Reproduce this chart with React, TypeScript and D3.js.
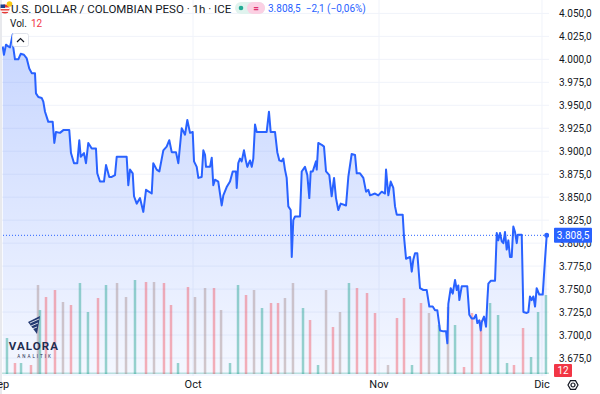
import React, { useEffect, useRef } from "react";
import * as d3 from "d3";

const W = 600;
const H = 394;

// [trading-day index, USD/COP price]
const priceSeries: [number, number][] = [
  [0.09, 4014], [0.24, 4005], [0.49, 4016], [0.77, 4014], [0.98, 4013], [1.31, 4027],
  [1.38, 4013], [1.59, 4000], [2.0, 4000], [2.29, 4006], [2.69, 4005], [3.03, 4001],
  [3.34, 3990], [3.64, 3985], [4.04, 3985], [4.16, 3963], [4.45, 3959], [4.86, 3958],
  [5.06, 3954], [5.27, 3943], [5.67, 3932], [6.21, 3932], [6.41, 3909], [6.61, 3921],
  [7.1, 3920], [7.51, 3923], [8.24, 3923], [8.45, 3898], [8.82, 3887], [9.22, 3887],
  [9.47, 3912], [9.64, 3894], [10.04, 3898], [10.29, 3887], [10.57, 3909], [10.99, 3903],
  [11.51, 3903], [11.67, 3876], [12.0, 3867], [12.49, 3867], [12.74, 3885], [13.14, 3872],
  [13.44, 3872], [13.84, 3874], [14.05, 3894], [15.27, 3894], [15.47, 3863], [15.68, 3880],
  [16.01, 3876], [16.17, 3851], [16.5, 3843], [16.9, 3849], [17.31, 3834], [17.64, 3858],
  [18.34, 3854], [18.53, 3887], [18.95, 3880], [19.27, 3878], [19.76, 3901], [20.17, 3905],
  [20.49, 3912], [20.79, 3899], [21.31, 3899], [21.6, 3887], [22.01, 3925], [22.42, 3918],
  [22.7, 3934], [23.03, 3920], [23.36, 3921], [23.52, 3889], [23.85, 3883], [24.05, 3871],
  [24.46, 3872], [24.66, 3901], [24.87, 3896], [24.99, 3883], [25.48, 3883], [25.69, 3893],
  [25.88, 3863], [26.09, 3869], [26.49, 3867], [26.91, 3841], [27.11, 3852], [27.52, 3861],
  [27.93, 3867], [28.26, 3878], [28.66, 3878], [28.75, 3860], [28.94, 3887], [29.15, 3892],
  [29.36, 3889], [29.64, 3901], [29.89, 3889], [30.05, 3883], [30.38, 3890], [30.59, 3883],
  [30.78, 3892], [30.99, 3929], [31.2, 3921], [32.42, 3921], [32.7, 3943], [32.91, 3921],
  [33.44, 3921], [33.72, 3899], [33.97, 3890], [34.26, 3889], [34.46, 3892], [34.66, 3880],
  [34.87, 3871], [35.07, 3840], [35.36, 3836], [35.49, 3785], [35.68, 3825], [35.89, 3829],
  [36.5, 3829], [36.71, 3878], [37.11, 3883], [37.4, 3874], [37.64, 3849], [37.81, 3878],
  [38.06, 3878], [38.46, 3889], [38.55, 3880], [38.74, 3909], [39.16, 3907], [39.44, 3905],
  [39.69, 3878], [40.09, 3874], [40.38, 3851], [40.67, 3871], [40.91, 3849], [41.19, 3836],
  [41.49, 3843], [42.14, 3841], [42.42, 3872], [42.83, 3897], [43.24, 3896], [43.45, 3876],
  [43.85, 3876], [44.26, 3871], [44.59, 3856], [44.87, 3858], [45.08, 3852], [45.69, 3854],
  [46.09, 3852], [46.51, 3856], [46.91, 3854], [47.04, 3880], [47.32, 3852], [47.61, 3867],
  [47.93, 3860], [48.14, 3840], [48.35, 3831], [49.08, 3831], [49.24, 3807], [49.49, 3783],
  [49.98, 3785], [50.19, 3769], [50.38, 3782], [50.59, 3789], [50.87, 3789], [51.2, 3751],
  [51.61, 3749], [52.02, 3749], [52.34, 3731], [52.76, 3731], [53.04, 3727], [53.32, 3727],
  [53.65, 3705], [54.06, 3704], [54.39, 3704], [54.55, 3691], [54.67, 3734], [54.96, 3751],
  [55.21, 3745], [55.49, 3760], [55.7, 3749], [55.89, 3754], [56.02, 3738], [56.31, 3753],
  [56.99, 3753], [57.24, 3722], [57.53, 3718], [57.81, 3718], [58.06, 3722], [58.22, 3713],
  [58.46, 3716], [58.64, 3705], [58.76, 3714], [59.04, 3720], [59.29, 3709], [59.45, 3738],
  [59.57, 3756], [59.86, 3759], [60.39, 3759], [60.6, 3811], [60.79, 3803], [61.0, 3811],
  [61.21, 3802], [61.41, 3800], [61.61, 3812], [61.82, 3793], [62.02, 3803], [62.22, 3785],
  [62.43, 3785], [62.63, 3818], [62.84, 3812], [63.05, 3800], [63.17, 3809], [63.66, 3809],
  [63.86, 3725], [64.27, 3724], [64.47, 3725], [64.67, 3742], [64.88, 3738], [65.08, 3742],
  [65.29, 3731], [65.49, 3751], [65.81, 3744], [66.23, 3744], [66.51, 3782], [66.72, 3808.5],
];

// [trading-day index, volume (relative), candle direction: u=up, d=down, m=mixed]
const volumeSeries: [number, number, string][] = [
  [0.61, 36, "u"], [1.59, 11, "d"], [2.33, 11, "u"], [3.55, 9, "d"], [4.41, 89, "m"],
  [4.65, 64, "u"], [5.39, 77, "d"], [6.49, 84, "d"], [7.47, 72, "m"], [8.45, 69, "d"],
  [9.55, 91, "u"], [10.53, 62, "u"], [11.76, 76, "d"], [12.74, 89, "u"], [14.09, 91, "m"],
  [15.19, 77, "m"], [16.29, 94, "u"], [17.64, 92, "d"], [18.62, 92, "m"], [19.84, 91, "d"],
  [20.7, 69, "d"], [21.56, 11, "u"], [22.78, 87, "d"], [23.64, 77, "m"], [24.87, 86, "m"],
  [25.97, 86, "d"], [26.83, 64, "m"], [27.93, 11, "u"], [28.91, 89, "u"], [29.89, 79, "d"],
  [30.87, 84, "m"], [31.85, 66, "u"], [32.95, 71, "d"], [33.81, 71, "d"], [34.66, 76, "m"],
  [35.64, 91, "m"], [36.87, 66, "u"], [37.73, 54, "d"], [38.71, 9, "u"], [39.69, 84, "m"],
  [40.54, 47, "d"], [41.4, 62, "m"], [42.5, 91, "u"], [43.48, 86, "d"], [44.71, 81, "d"],
  [45.69, 61, "d"], [47.28, 9, "m"], [48.38, 56, "d"], [49.24, 76, "d"], [50.22, 9, "u"],
  [51.32, 71, "d"], [52.3, 61, "m"], [53.53, 49, "u"], [54.63, 67, "m"], [55.49, 49, "u"],
  [56.59, 7, "d"], [57.57, 61, "d"], [58.67, 54, "d"], [59.78, 71, "u"], [60.76, 59, "u"],
  [61.86, 11, "u"], [62.71, 9, "d"], [63.82, 46, "d"], [64.8, 17, "u"], [65.66, 62, "u"],
  [66.63, 79, "u"],
];

const priceTicks = [3675, 3700, 3725, 3750, 3775, 3800, 3825, 3850, 3875, 3900, 3925, 3950, 3975, 4000, 4025, 4050];
const monthTicks: [number, string][] = [[-0.25, "Sep"], [23.4, "Oct"], [46.18, "Nov"], [66.14, "Dic"]];
const lastPrice = 3808.5;
const lastVolume = 12;
const title = "U.S. DOLLAR / COLOMBIAN PESO · 1h · ICE";
const changeText = "3.808,5  −2,1 (−0,06%)";

const volColor: Record<string, string> = {
  u: "rgba(8,153,129,0.4)",
  d: "rgba(242,54,69,0.38)",
  m: "rgba(160,130,130,0.42)",
};

const FONT = "Roboto, 'Open Sans', sans-serif";

const App = () => {
  const ref = useRef<SVGSVGElement>(null);

  useEffect(() => {
    const svg = d3.select(ref.current);
    svg.selectAll("*").remove();

    const plotRight = 549;
    const plotBottom = 376;

    const x = d3.scaleLinear().domain([0, 67]).range([2, plotRight]);
    const y = d3.scaleLinear().domain([3675, 4050]).range([358, 13.4]);
    const yVol = d3.scaleLinear().domain([0, 100]).range([374, 274]);

    const loc = d3.formatLocale({ decimal: ",", thousands: ".", grouping: [3], currency: ["", ""] });
    const fmt = loc.format(",.1f");

    svg.append("rect").attr("width", W).attr("height", H).attr("fill", "#fff");

    const defs = svg.append("defs");
    const grad = defs
      .append("linearGradient")
      .attr("id", "areaGrad")
      .attr("gradientUnits", "userSpaceOnUse")
      .attr("x1", 0).attr("x2", 0)
      .attr("y1", 40).attr("y2", plotBottom);
    grad.append("stop").attr("offset", 0).attr("stop-color", "#2962ff").attr("stop-opacity", 0.26);
    grad.append("stop").attr("offset", 1).attr("stop-color", "#2962ff").attr("stop-opacity", 0.05);

    // grid
    svg.append("g")
      .selectAll("line")
      .data(priceTicks)
      .join("line")
      .attr("x1", 0).attr("x2", plotRight)
      .attr("y1", (d) => y(d)).attr("y2", (d) => y(d))
      .attr("stroke", "#f0f3fa");
    svg.append("g")
      .selectAll("line")
      .data(monthTicks.slice(1))
      .join("line")
      .attr("x1", (d) => x(d[0])).attr("x2", (d) => x(d[0]))
      .attr("y1", 0).attr("y2", plotBottom)
      .attr("stroke", "#f0f3fa");

    // area under the line
    const area = d3.area<[number, number]>()
      .x((d) => x(d[0]))
      .y0(plotBottom)
      .y1((d) => y(d[1]));
    svg.append("path").datum(priceSeries).attr("d", area).attr("fill", "url(#areaGrad)");

    // volume
    svg.append("rect")
      .attr("x", 2).attr("y", yVol(1.5))
      .attr("width", plotRight - 2).attr("height", yVol(0) - yVol(1.5))
      .attr("fill", "rgba(8,153,129,0.25)");
    svg.append("g")
      .selectAll("rect")
      .data(volumeSeries)
      .join("rect")
      .attr("x", (d) => x(d[0]) - 1.25)
      .attr("y", (d) => yVol(d[1]))
      .attr("width", 2.5)
      .attr("height", (d) => yVol(0) - yVol(d[1]))
      .attr("fill", (d) => volColor[d[2]]);

    // price line
    const line = d3.line<[number, number]>()
      .x((d) => x(d[0]))
      .y((d) => y(d[1]));
    svg.append("path")
      .datum(priceSeries)
      .attr("d", line)
      .attr("fill", "none")
      .attr("stroke", "#2962ff")
      .attr("stroke-width", 2)
      .attr("stroke-linejoin", "round");

    // last price marker
    const last = priceSeries[priceSeries.length - 1];
    svg.append("line")
      .attr("x1", 0).attr("x2", plotRight)
      .attr("y1", y(lastPrice)).attr("y2", y(lastPrice))
      .attr("stroke", "#2962ff").attr("stroke-width", 1)
      .attr("stroke-dasharray", "1,2");
    svg.append("circle")
      .attr("cx", x(last[0])).attr("cy", y(last[1]))
      .attr("r", 2.5).attr("fill", "#2962ff");

    // left edge strip
    svg.append("rect").attr("x", 0).attr("y", 0).attr("width", 2).attr("height", H).attr("fill", "#e8e9ed");

    // right price axis
    svg.append("rect").attr("x", plotRight).attr("y", 0).attr("width", W - plotRight).attr("height", H).attr("fill", "#fff");
    svg.append("g")
      .selectAll("text")
      .data(priceTicks)
      .join("text")
      .attr("x", 559)
      .attr("y", (d) => y(d))
      .attr("dy", "0.35em")
      .attr("font-family", FONT)
      .attr("font-size", 10)
      .attr("fill", "#131722")
      .text((d) => fmt(d));

    svg.append("rect")
      .attr("x", 554).attr("y", y(lastPrice) - 7.5)
      .attr("width", 38).attr("height", 15)
      .attr("rx", 1)
      .attr("fill", "#2962ff");
    svg.append("text")
      .attr("x", 573).attr("y", y(lastPrice))
      .attr("dy", "0.35em")
      .attr("text-anchor", "middle")
      .attr("font-family", FONT)
      .attr("font-size", 10)
      .attr("fill", "#fff")
      .text(fmt(lastPrice));

    svg.append("rect")
      .attr("x", 554).attr("y", 364)
      .attr("width", 18).attr("height", 13)
      .attr("rx", 1)
      .attr("fill", "#f23645");
    svg.append("text")
      .attr("x", 563).attr("y", 370.5)
      .attr("dy", "0.35em")
      .attr("text-anchor", "middle")
      .attr("font-family", FONT)
      .attr("font-size", 10)
      .attr("fill", "#fff")
      .text(lastVolume);

    // time axis
    svg.append("g")
      .selectAll("text")
      .data(monthTicks)
      .join("text")
      .attr("x", (d) => x(d[0]))
      .attr("y", 388)
      .attr("text-anchor", "middle")
      .attr("font-family", FONT)
      .attr("font-size", 11)
      .attr("fill", "#131722")
      .text((d) => d[1]);

    // settings gear
    const gear = svg.append("g").attr("transform", "translate(573,385)");
    gear.append("polygon")
      .attr("points", d3.range(6).map((i) => {
        const a = (Math.PI / 3) * i;
        return `${5 * Math.cos(a)},${5 * Math.sin(a)}`;
      }).join(" "))
      .attr("fill", "none").attr("stroke", "#131722").attr("stroke-width", 1.2);
    gear.append("circle").attr("r", 2).attr("fill", "none").attr("stroke", "#131722").attr("stroke-width", 1.2);

    // collapse button
    svg.append("rect")
      .attr("x", 12.5).attr("y", 33.5).attr("width", 16).attr("height", 13).attr("rx", 2)
      .attr("fill", "#fff").attr("stroke", "#e0e3eb");
    svg.append("path")
      .attr("d", "M17,42 L20.5,38.5 L24,42")
      .attr("fill", "none").attr("stroke", "#131722").attr("stroke-width", 1.2);

    // header legend
    const flag = svg.append("g").attr("transform", "translate(5,9)");
    flag.append("circle").attr("r", 4.5).attr("fill", "#e53935");
    flag.append("rect").attr("x", -4.5).attr("y", -1.5).attr("width", 9).attr("height", 1.6).attr("fill", "#fff");
    flag.append("rect").attr("x", -4.5).attr("y", 1.5).attr("width", 9).attr("height", 1.4).attr("fill", "#fff");
    flag.append("rect").attr("x", -4.5).attr("y", -4.5).attr("width", 4.5).attr("height", 3.5).attr("fill", "#1a3f8f");
    svg.append("circle").attr("cx", 9.5).attr("cy", 4).attr("r", 2.8).attr("fill", "#f6c915");

    svg.append("text")
      .attr("x", 11).attr("y", 13)
      .attr("font-family", FONT)
      .attr("font-size", 11.5)
      .attr("fill", "#131722")
      .text(title);

    svg.append("rect").attr("x", 235).attr("y", 2).attr("width", 30).attr("height", 12).attr("rx", 6).attr("fill", "#e0f3ee");
    svg.append("circle").attr("cx", 241).attr("cy", 8).attr("r", 2.3).attr("fill", "#22ab94");
    svg.append("rect").attr("x", 247).attr("y", 2).attr("width", 18).attr("height", 12).attr("rx", 6).attr("fill", "#fbd0e3");
    svg.append("text")
      .attr("x", 256).attr("y", 8).attr("dy", "0.35em")
      .attr("text-anchor", "middle")
      .attr("font-family", FONT).attr("font-size", 10).attr("font-weight", 700)
      .attr("fill", "#e0306f")
      .text("=");
    svg.append("text")
      .attr("x", 268).attr("y", 12)
      .attr("font-family", FONT)
      .attr("font-size", 10)
      .attr("fill", "#2962ff")
      .attr("xml:space", "preserve")
      .text(changeText);

    svg.append("text")
      .attr("x", 10).attr("y", 27)
      .attr("font-family", FONT).attr("font-size", 10)
      .attr("fill", "#131722")
      .text("Vol.");
    svg.append("text")
      .attr("x", 31).attr("y", 27)
      .attr("font-family", FONT).attr("font-size", 10)
      .attr("fill", "#f23645")
      .text(lastVolume);

    // watermark logo
    const logo = svg.append("g");
    logo.append("path")
      .attr("d", "M28,322 L40,316 L37,334 Z")
      .attr("fill", "#243a72");
    logo.append("path")
      .attr("d", "M30,323 L39,319 M31,326 L38,323 M32,329 L37,327")
      .attr("stroke", "#fff").attr("stroke-width", 0.8);
    logo.append("text")
      .attr("x", 34).attr("y", 350)
      .attr("text-anchor", "middle")
      .attr("font-family", FONT).attr("font-size", 11.5).attr("font-weight", 700)
      .attr("letter-spacing", 1.1)
      .attr("fill", "#1f2d50")
      .text("VALORA");
    logo.append("text")
      .attr("x", 35).attr("y", 358)
      .attr("text-anchor", "middle")
      .attr("font-family", FONT).attr("font-size", 4.5)
      .attr("letter-spacing", 2)
      .attr("fill", "#1f2d50")
      .text("ANALITIK");
  }, []);

  return <svg ref={ref} width={W} height={H} style={{ position: "fixed", left: 0, top: 0 }} />;
};

export default App;
